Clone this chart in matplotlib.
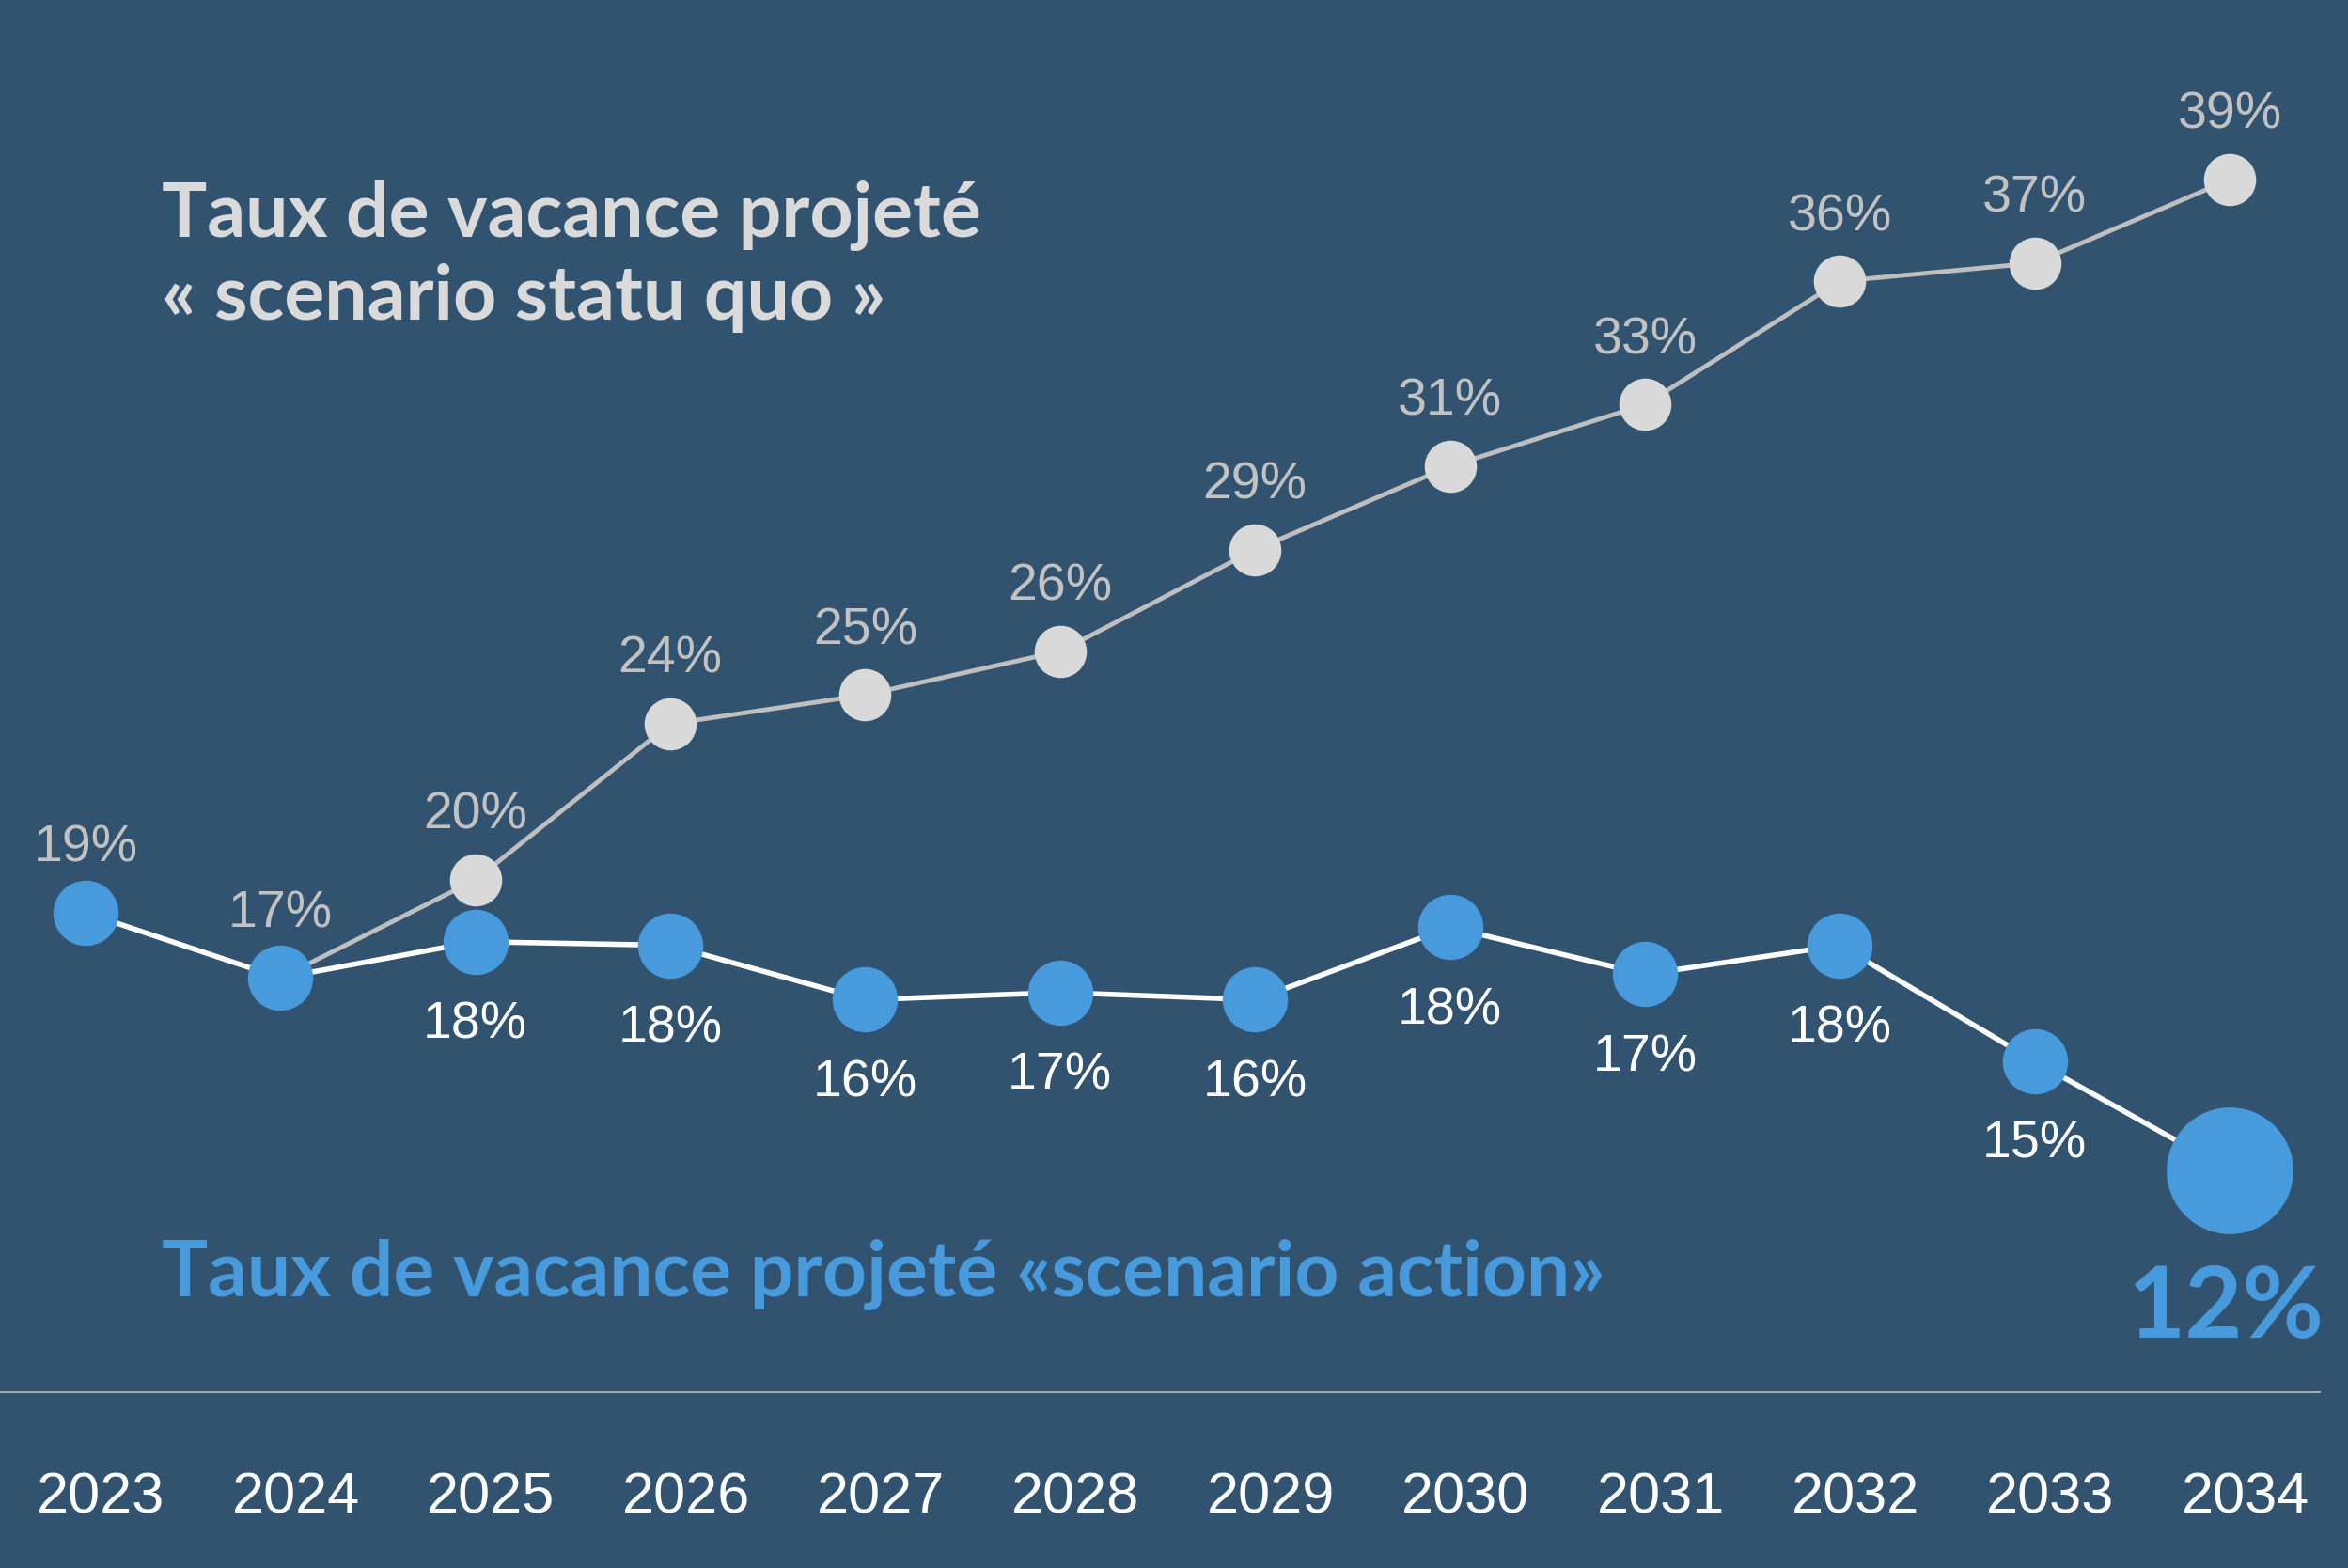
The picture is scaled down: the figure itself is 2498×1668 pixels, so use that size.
import matplotlib
matplotlib.use("Agg")
import matplotlib.pyplot as plt
import matplotlib.transforms as mtransforms

years = ["2023", "2024", "2025", "2026", "2027", "2028", "2029", "2030", "2031", "2032", "2033", "2034"]

# scenario action (blue), one value per year
action = [18.8, 17.0, 18.0, 17.9, 16.4, 16.6, 16.4, 18.4, 17.1, 17.9, 14.7, 11.7]

# scenario statu quo (grey), starts from 2024
quo_years = years[1:]
quo = [17.0, 19.7, 24.0, 24.8, 26.0, 28.8, 31.1, 32.8, 36.2, 36.7, 39.0]

bg = "#315370"
blue = "#479BDD"
grey_dot = "#D9D9D9"
grey_line = "#BFBFBF"
grey_txt = "#C2C2C2"

num_font = "Liberation Sans"
title_font = "Lato"

fig = plt.figure(figsize=(24.98, 16.68), dpi=100)
fig.patch.set_facecolor(bg)
ax = fig.add_axes([0, 0, 1, 1])
ax.set_facecolor(bg)
ax.axis("off")

x_all = list(range(len(years)))
x_quo = [years.index(y) for y in quo_years]

# grey line + markers (first point hidden under the blue one)
ax.plot(x_quo, quo, color=grey_line, lw=3.5, zorder=2)
ax.plot(x_quo[1:], quo[1:], "o", color=grey_dot, ms=40, mew=0, zorder=3)

# blue line (white connector) + markers, last one bigger
ax.plot(x_all, action, color="white", lw=4, zorder=4)
ax.plot(x_all[:-1], action[:-1], "o", color=blue, ms=50, mew=0, zorder=5)
ax.plot(x_all[-1:], action[-1:], "o", color=blue, ms=97, mew=0, zorder=5)

# labels
for x, v in zip(x_quo[1:], quo[1:]):
    ax.annotate(f"{round(v)}%", (x, v), xytext=(0, 39), textcoords="offset points",
                ha="center", va="baseline", fontsize=40, color=grey_txt,
                family=num_font, zorder=6)
for i in range(2):
    ax.annotate(f"{round(action[i])}%", (x_all[i], action[i]), xytext=(0, 39),
                textcoords="offset points", ha="center", va="baseline",
                fontsize=40, color=grey_txt, family=num_font, zorder=6)
for i in range(2, len(years) - 1):
    ax.annotate(f"{round(action[i])}%", (x_all[i], action[i]), xytext=(0, -74),
                textcoords="offset points", ha="center", va="baseline",
                fontsize=40, color="white", family=num_font, zorder=6)

ax.text(0.948, 0.147, f"{round(action[-1])}%", transform=ax.transAxes,
        ha="center", va="baseline", fontsize=76, fontweight="bold",
        color=blue, family=title_font)

# titles
ax.text(0.069, 0.849, "Taux de vacance projeté", transform=ax.transAxes,
        ha="left", va="baseline", fontsize=58, fontweight="bold",
        color="#DADADA", family=title_font)
ax.text(0.069, 0.796, "« scenario statu quo »", transform=ax.transAxes,
        ha="left", va="baseline", fontsize=58, fontweight="bold",
        color="#DADADA", family=title_font)
ax.text(0.069, 0.1733, "Taux de vacance projeté «scenario action»",
        transform=ax.transAxes, ha="left", va="baseline", fontsize=59,
        fontweight="bold", color=blue, family=title_font)

# baseline rule and years (years sit a little right of the dots)
ax.plot([0, 0.988], [0.112, 0.112], transform=ax.transAxes, color="#A3ABB4", lw=1.5)
year_tr = ax.get_xaxis_transform() + mtransforms.ScaledTranslation(12 / 72, 0, fig.dpi_scale_trans)
for x, y in zip(x_all, years):
    ax.text(x, 0.0348, y, transform=year_tr, ha="center",
            va="baseline", fontsize=44, color="white", family=num_font)

ax.set_xlim(-0.438, 11.607)
ax.set_ylim(0.74, 43.95)

fig.savefig("out.png", dpi=100, facecolor=bg)
